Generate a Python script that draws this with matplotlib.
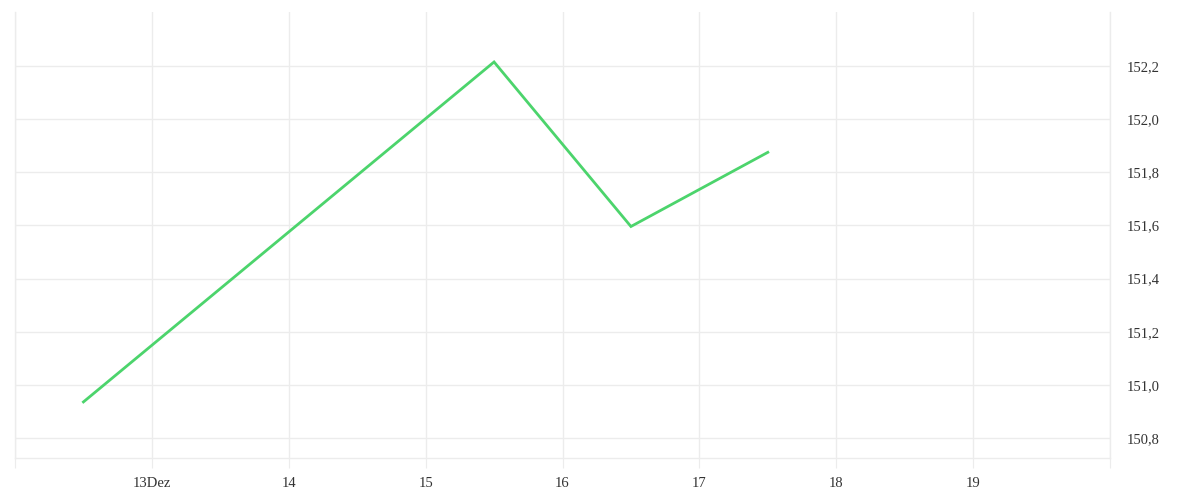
import matplotlib
matplotlib.use('Agg')
from matplotlib import pyplot as plt
from matplotlib.ticker import FixedLocator, FuncFormatter
import matplotlib.dates as mdates
import pandas as pd

# price points (half-day positions in December)
dates = ['2023-12-12 12:00', '2023-12-15 12:00', '2023-12-16 12:00', '2023-12-17 12:00']
prices = [150.936, 152.215, 151.596, 151.875]
y_ticks = [150.8, 151.0, 151.2, 151.4, 151.6, 151.8, 152.0, 152.2]

x = mdates.date2num(pd.to_datetime(dates))
grid_col = '#ececec'
plt.rcParams['font.family'] = ['Liberation Serif', 'DejaVu Serif']

fig = plt.figure(figsize=(12, 5), dpi=100)
ax = fig.add_axes([0.0125, 0.084, 0.9125, 0.892])

ax.plot(x, prices, color='#4cd46c', linewidth=2, solid_joinstyle='miter')

x0 = mdates.date2num(pd.Timestamp('2023-12-12'))
ax.set_xlim(x0, x0 + 8)
ax.set_ylim(150.725, 152.403)

day_ticks = [x0 + i for i in range(9)]
ax.xaxis.set_major_locator(FixedLocator(day_ticks))

def fmt_day(v, pos):
    d = mdates.num2date(v)
    if d.day in (12, 20):
        return ''
    if d.day == 13:
        return '13Dez'
    return str(d.day)

ax.xaxis.set_major_formatter(FuncFormatter(fmt_day))
ax.yaxis.set_major_locator(FixedLocator(y_ticks))
ax.yaxis.set_major_formatter(FuncFormatter(lambda v, p: f'{v:.1f}'.replace('.', ',')))
ax.yaxis.tick_right()

ax.grid(True, color=grid_col, linewidth=1)
ax.tick_params(axis='x', length=7, color=grid_col, labelsize=10.5, labelcolor='#333333', pad=7)
ax.tick_params(axis='y', length=0, labelsize=10.5, labelcolor='#333333', pad=12)

ax.spines['top'].set_visible(False)
for s in ['left', 'right', 'bottom']:
    ax.spines[s].set_color(grid_col)
    ax.spines[s].set_linewidth(1)

fig.savefig('out.png', dpi=100, facecolor='white')
